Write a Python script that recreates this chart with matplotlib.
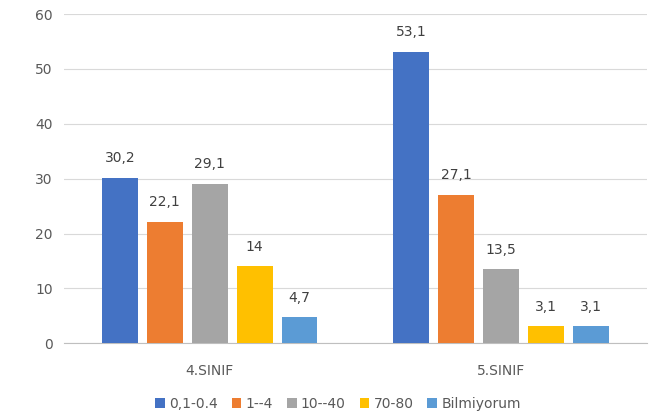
import numpy as np
import matplotlib.pyplot as plt

# data
groups = ["4.SINIF", "5.SINIF"]
series = ["0,1-0.4", "1--4", "10--40", "70-80", "Bilmiyorum"]
values = [
    [30.2, 53.1],
    [22.1, 27.1],
    [29.1, 13.5],
    [14, 3.1],
    [4.7, 3.1],
]
labels = [
    ["30,2", "53,1"],
    ["22,1", "27,1"],
    ["29,1", "13,5"],
    ["14", "3,1"],
    ["4,7", "3,1"],
]
colors = ["#4472C4", "#ED7D31", "#A5A5A5", "#FFC000", "#5B9BD5"]

fig = plt.figure(figsize=(6.6, 4.16), dpi=100)
ax = fig.add_axes([0.097, 0.175, 0.883, 0.791])

x = np.arange(len(groups))
step = 0.154
width = 0.123
for i, s in enumerate(series):
    pos = x + (i - 2) * step
    bars = ax.bar(pos, values[i], width, color=colors[i], label=s, zorder=3)
    for b, t in zip(bars, labels[i]):
        ax.text(b.get_x() + b.get_width() / 2, b.get_height() + 2.3, t,
                ha="center", va="bottom", fontsize=10, color="#404040")

ax.set_xlim(-0.5, 1.5)
ax.set_ylim(0, 60)
ax.set_yticks(range(0, 61, 10))
ax.set_xticks(x)
ax.set_xticklabels(groups)
ax.tick_params(axis="both", length=0, labelsize=10, colors="#595959", pad=8)
ax.tick_params(axis="x", pad=15)
ax.grid(axis="y", color="#D9D9D9", linewidth=0.8, zorder=0)
for side in ["top", "right", "left"]:
    ax.spines[side].set_visible(False)
ax.spines["bottom"].set_color("#BFBFBF")

ax.legend(loc="upper center", bbox_to_anchor=(0.47, -0.125), ncol=5, frameon=False,
          fontsize=10, handlelength=0.7, handleheight=0.7, handletextpad=0.3,
          columnspacing=1.0, labelcolor="#595959")

fig.savefig("out.png", dpi=100)
